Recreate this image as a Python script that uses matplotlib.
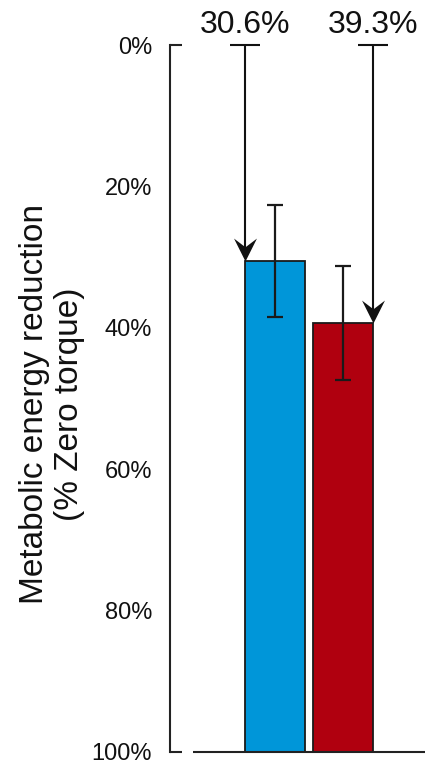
import matplotlib
matplotlib.use("Agg")
import matplotlib.pyplot as plt
from matplotlib.path import Path

plt.rcParams['font.family'] = ['Liberation Sans', 'DejaVu Sans']

# Data
conditions = ["Condition A", "Condition B"]
reduction = [30.6, 39.3]          # % of zero-torque metabolic energy
errors = [7.9, 8.1]               # +/- error
bar_colors = ["#0096D9", "#B0000F"]
value_labels = ["30.6%", "39.3%"]
ytick_vals = [0, 20, 40, 60, 80, 100]
ytick_labels = ["0%", "20%", "40%", "60%", "80%", "100%"]

W, H = 426, 764
fig = plt.figure(figsize=(W / 100, H / 100), dpi=100)
ax = fig.add_axes([170 / W, 1 - 752 / H, 1 - 170 / W, (752 - 45) / H])

xpos = [0, 1]
bar_w = 0.87
ax.set_xlim(-1.544, 2.22)
ax.set_ylim(100, 0)

# bars hang from the 100% baseline up to the reduction value
ax.bar(xpos, [100 - v for v in reduction], bottom=reduction, width=bar_w,
       color=bar_colors, edgecolor="#1a1a1a", linewidth=1.3, zorder=2)
ax.errorbar(xpos, reduction, yerr=errors, fmt="none", ecolor="#1a1a1a",
            elinewidth=1.6, capsize=5.5, capthick=1.6, zorder=3)

# notched arrowhead pointing down, tip at the marker origin
head = Path([(0, 0), (-0.5, 1.0), (0, 0.62), (0.5, 1.0), (0, 0)],
            [Path.MOVETO, Path.LINETO, Path.LINETO, Path.LINETO, Path.CLOSEPOLY])

# arrows from 0% down to each bar top
arrow_x = [xpos[0] - bar_w / 2, xpos[1] + bar_w / 2]
for xa, v, lab in zip(arrow_x, reduction, value_labels):
    ax.plot([xa, xa], [0, v - 1.5], color="#111111", lw=1.5,
            solid_capstyle="butt", clip_on=False, zorder=4)
    ax.plot([xa], [v], marker=head, markersize=33, color="#111111",
            markeredgewidth=0, clip_on=False, zorder=5)
    ax.plot([xa - 0.22, xa + 0.22], [0, 0], color="#111111", lw=1.5,
            solid_capstyle="butt", clip_on=False, zorder=4)
    ax.text(xa, -1.7, lab, ha="center", va="baseline", fontsize=23,
            color="#111111", clip_on=False)

# axis styling
for s in ["top", "right", "bottom"]:
    ax.spines[s].set_visible(False)
ax.spines["left"].set_linewidth(1.5)
ax.spines["left"].set_color("#222222")
ax.set_xticks([])
ax.set_yticks(ytick_vals)
ax.set_yticklabels(ytick_labels, fontsize=17, color="#111111")
ax.tick_params(axis="y", length=0, pad=13)

# short end ticks at 0% and 100%
x0 = ax.get_xlim()[0]
for yv in (0, 100):
    ax.plot([x0, x0 + 12 / 68], [yv, yv], color="#222222", lw=1.5,
            solid_capstyle="butt", clip_on=False)
# baseline
ax.plot([-1.206, 2.206], [100, 100], color="#222222", lw=1.5,
        solid_capstyle="butt", clip_on=False)

fig.text(52 / W, 1 - 404 / H, "Metabolic energy reduction\n(% Zero torque)",
         rotation=90, ha="center", va="center", multialignment="center",
         fontsize=24, color="#111111", linespacing=1.15)

fig.savefig("out.png", dpi=100)
